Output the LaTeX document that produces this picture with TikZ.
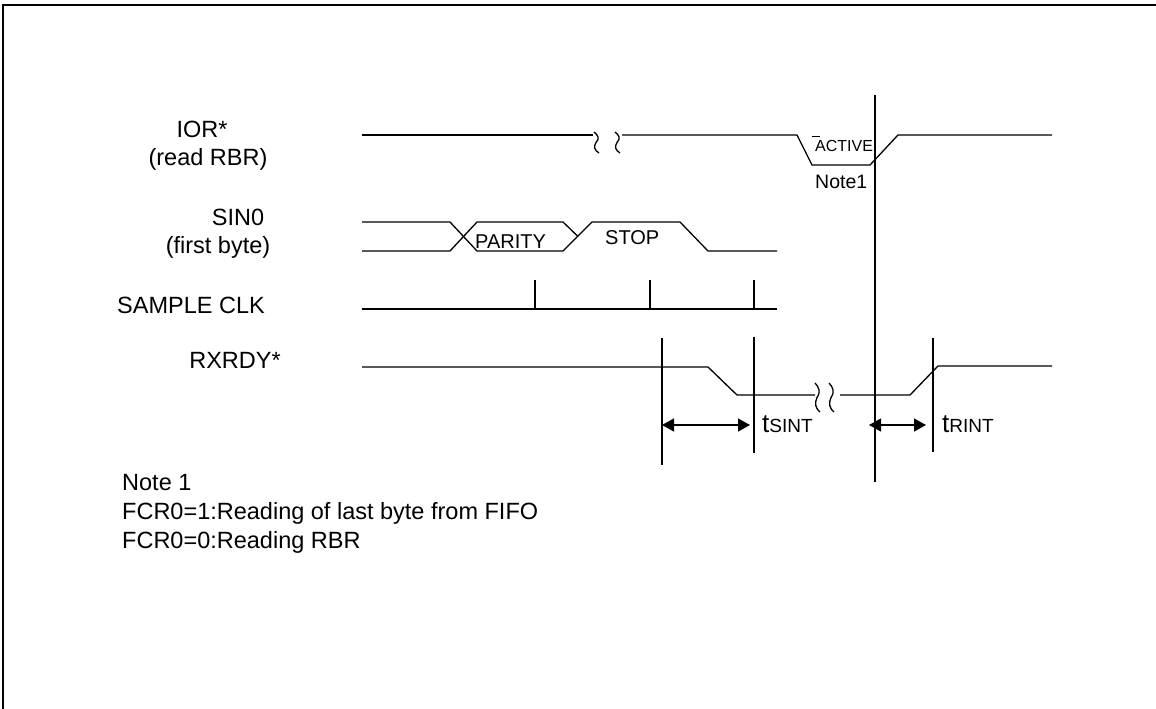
\documentclass[tikz,border=0pt]{standalone}
\usepackage{fontspec}
\setmainfont{Liberation Sans}
\usetikzlibrary{arrows.meta}
\newcommand{\wavebreak}[3]{\draw[line width=1.3pt] (#1,#2) .. controls (#1+4,#2+0.15*#3) and (#1+6,#2+0.3*#3) .. (#1+2,#2+0.5*#3) .. controls (#1-1,#2+0.7*#3) and (#1+1,#2+0.9*#3) .. (#1+5,#2+#3);}
\newcommand{\siglabel}[3]{\node[anchor=base,font=\fontsize{23.5}{28}\selectfont] at (#1,#2) {#3};}

\begin{document}
\begin{tikzpicture}[x=1pt,y=-1pt,line cap=butt,line join=miter]
  \useasboundingbox (0,0) rectangle (1156,709);
  \draw[line width=2.5pt] (3,709) -- (3,5) -- (1156,5);
  \siglabel{202}{137}{IOR*}\siglabel{208}{165}{(read RBR)}
  \siglabel{238}{225}{SIN0}\siglabel{218}{253}{(first byte)}
  \siglabel{191}{313}{SAMPLE CLK}
  \siglabel{235}{368}{RXRDY*}
  \begin{scope}[line width=1.3pt]
    \draw (362,135) -- (593,135);
    \draw (622,135) -- (797,135) -- (812,165) -- (870,165) -- (898,135) -- (1052,135);
    \draw (362,222) -- (450,222) -- (477,251) -- (563,251) -- (592,222) -- (680,222) -- (708,251) -- (777,251);
    \draw (362,251) -- (450,251) -- (477,222) -- (563,222) -- (578,236.5);
    \draw (362,309) -- (777,309);
    \foreach \t in {535,650,754}{\draw (\t,280) -- (\t,309);}
    \draw (362,367) -- (708,367) -- (737,395) -- (815,395);
    \draw (840,395) -- (910,395) -- (938,366) -- (1052,366);
    \draw (812,136.5) -- (820,136.5);
    \coordinate (s1) at (662,425);
    \coordinate (s2) at (750,425);
    \coordinate (r1) at (869,425);
    \coordinate (r2) at (926,425);
    \draw (662,338) -- (662,465);
    \draw (754,337) -- (754,453);
    \draw (875,95) -- (875,482);
    \draw (933,338) -- (933,452);
    \draw[{Triangle[length=12pt,width=13pt]}-{Triangle[length=12pt,width=13pt]}] (s1) -- (s2);
    \draw[{Triangle[length=12pt,width=13pt]}-{Triangle[length=12pt,width=13pt]}] (r1) -- (r2);
  \end{scope}
  \wavebreak{594}{132}{21}\wavebreak{615}{132}{21}
  \wavebreak{815}{383}{29}\wavebreak{829}{383}{29}
  \node[anchor=base west,font=\fontsize{20}{24}\selectfont,inner sep=0pt] at (475,248) {PARITY};
  \node[anchor=base west,font=\fontsize{20}{24}\selectfont,inner sep=0pt] at (605,244) {STOP};
  \node[anchor=base west,font=\fontsize{16}{18}\selectfont,inner sep=0pt] at (815,151) {ACTIVE};
  \node[anchor=base west,font=\fontsize{19.5}{22}\selectfont,inner sep=0pt] at (815,188) {Note1};
  \node[anchor=base west,font=\fontsize{26}{28}\selectfont,inner sep=0pt] at (762,432) {t{\fontsize{19}{20}\selectfont SINT}};
  \node[anchor=base west,font=\fontsize{26}{28}\selectfont,inner sep=0pt] at (942,432) {t{\fontsize{19}{20}\selectfont RINT}};
  \foreach \y/\txt in {490/Note 1,519/FCR0=1:Reading of last byte from FIFO,548/FCR0=0:Reading RBR}{\node[anchor=base west,font=\fontsize{23.5}{28}\selectfont,inner sep=0pt] at (122,\y) {\txt};}
\end{tikzpicture}
\end{document}
